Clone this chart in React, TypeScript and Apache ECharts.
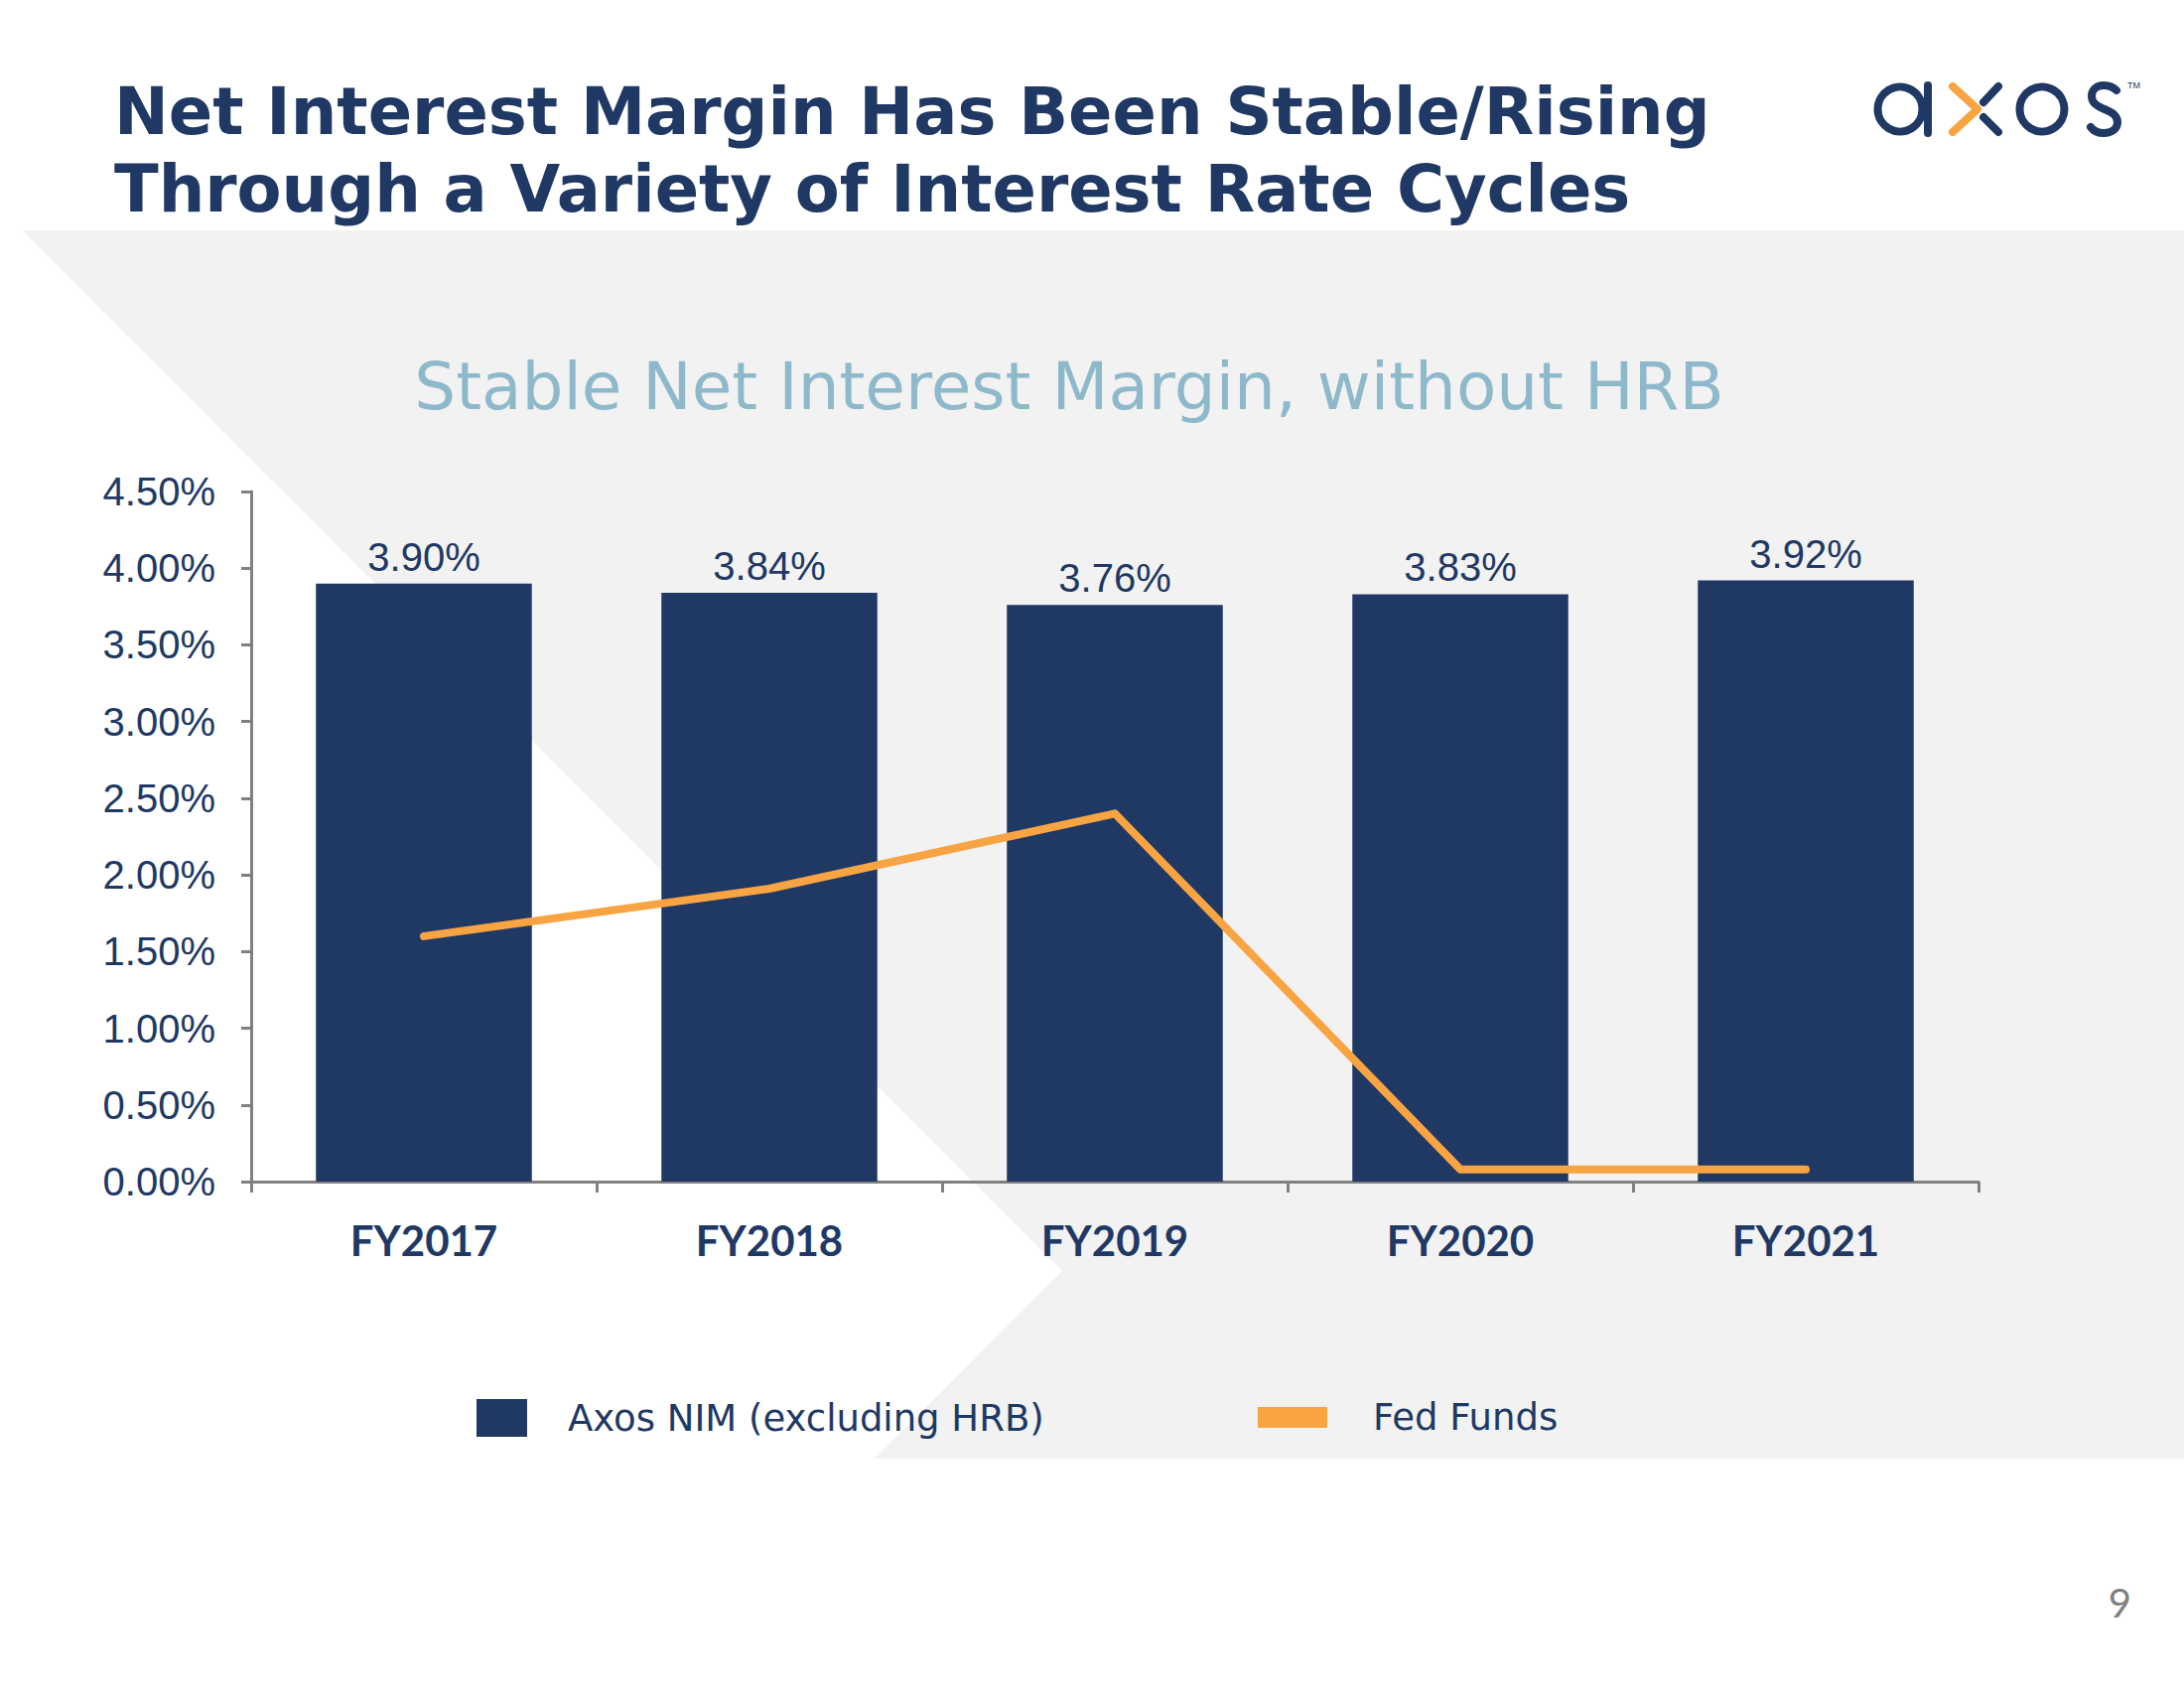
import React, { useEffect, useRef } from "react";
import * as echarts from "echarts";

const categories = ["FY2017", "FY2018", "FY2019", "FY2020", "FY2021"];
const nimValues = [3.9, 3.84, 3.76, 3.83, 3.92];
const fedFundsValues = [1.6, 1.91, 2.4, 0.08, 0.08];
const yMin = 0;
const yMax = 4.5;
const yInterval = 0.5;

const titleLines = [
  "Net Interest Margin Has Been Stable/Rising",
  "Through a Variety of Interest Rate Cycles",
];
const subtitle = "Stable Net Interest Margin, without HRB";
const seriesNames = ["Axos NIM (excluding HRB)", "Fed Funds"];
const pageNumber = "9";

const NAVY = "#203864";
const ORANGE = "#F8A443";
const GREY_AXIS = "#808080";
const BG_GREY = "#F2F2F2";

const S_PATH =
  "M 26 5 C 22 1 17 0 13 0 C 6 0 1 4 1 11 C 1 18 7 21 14 24 C 21 27 27 30 27 37 C 27 44 21 48 13 48 C 8 48 3 46 0 42";

let registered = false;
function ensureShape() {
  if (registered) return;
  echarts.graphic.registerShape("logoS", echarts.graphic.extendPath(S_PATH, {}) as any);
  registered = true;
}

export default function App() {
  const ref = useRef<HTMLDivElement>(null);

  useEffect(() => {
    if (!ref.current) return;
    ensureShape();
    const chart = echarts.init(ref.current, undefined, { renderer: "svg" });

    const logoStroke = { fill: "none", stroke: NAVY, lineWidth: 8, lineCap: "round", lineJoin: "round" };

    chart.setOption({
      animation: false,
      backgroundColor: "#ffffff",
      graphic: [
        {
          type: "rect",
          z: -10,
          silent: true,
          shape: { x: 0, y: 232, width: 2200, height: 1237 },
          style: { fill: BG_GREY },
        },
        {
          type: "polygon",
          z: -9,
          silent: true,
          shape: {
            points: [
              [0, 232],
              [22, 232],
              [1070, 1280],
              [881, 1469],
              [0, 1469],
            ],
          },
          style: { fill: "#ffffff" },
        },
        {
          type: "text",
          x: 115,
          y: 112,
          style: {
            text: titleLines[0],
            font: "bold 65.5px 'DejaVu Sans'",
            fill: NAVY,
            textVerticalAlign: "middle",
          },
        },
        {
          type: "text",
          x: 115,
          y: 190,
          style: {
            text: titleLines[1],
            font: "bold 65.5px 'DejaVu Sans'",
            fill: NAVY,
            textVerticalAlign: "middle",
          },
        },
        {
          type: "text",
          x: 1077,
          y: 389,
          style: {
            text: subtitle,
            font: "66px 'DejaVu Sans'",
            fill: "#8DB9CA",
            textAlign: "center",
            textVerticalAlign: "middle",
          },
        },
        {
          type: "text",
          x: 2147,
          y: 1614,
          style: {
            text: pageNumber,
            font: "40px Lato",
            fill: "#808080",
            textAlign: "right",
            textVerticalAlign: "middle",
          },
        },
        // logo "axos"
        { type: "circle", shape: { cx: 1914, cy: 110, r: 22.5 }, style: logoStroke },
        { type: "line", shape: { x1: 1942, y1: 86, x2: 1942, y2: 134 }, style: logoStroke },
        {
          type: "polyline",
          shape: { points: [[1967, 87], [1992, 110], [1967, 133]] },
          style: { ...logoStroke, stroke: ORANGE },
        },
        { type: "line", shape: { x1: 2013, y1: 87, x2: 1998, y2: 103 }, style: logoStroke },
        { type: "line", shape: { x1: 1998, y1: 118, x2: 2013, y2: 133 }, style: logoStroke },
        { type: "circle", shape: { cx: 2057, cy: 110, r: 22.5 }, style: logoStroke },
        { type: "logoS", x: 2106, y: 86, style: logoStroke },
        {
          type: "text",
          x: 2143,
          y: 86,
          style: { text: "TM", font: "9px 'Liberation Sans'", fill: NAVY, textVerticalAlign: "middle" },
        },
      ],
      legend: [
        {
          left: 480,
          top: 1409,
          padding: 0,
          itemWidth: 51,
          itemHeight: 38,
          selectedMode: false,
          data: [{ name: seriesNames[0], icon: "rect" }],
          textStyle: {
            fontFamily: "DejaVu Sans",
            fontSize: 37,
            color: NAVY,
            padding: [0, 0, 0, 36],
          },
        },
        {
          left: 1267,
          top: 1409,
          padding: 0,
          itemWidth: 70,
          itemHeight: 21,
          selectedMode: false,
          data: [{ name: seriesNames[1], icon: "rect" }],
          textStyle: {
            fontFamily: "DejaVu Sans",
            fontSize: 37,
            color: NAVY,
            padding: [0, 0, 0, 41],
          },
        },
      ],
      grid: { left: 253, top: 495, width: 1740, height: 695, containLabel: false },
      xAxis: {
        type: "category",
        data: categories,
        axisLine: { show: true, lineStyle: { color: GREY_AXIS, width: 3 } },
        axisTick: { show: true, length: 11, lineStyle: { color: GREY_AXIS, width: 3 } },
        axisLabel: {
          margin: 38,
          fontFamily: "Lato",
          fontWeight: "bold",
          fontSize: 42,
          color: NAVY,
        },
        splitLine: { show: false },
      },
      yAxis: {
        type: "value",
        min: yMin,
        max: yMax,
        interval: yInterval,
        axisLine: { show: true, lineStyle: { color: GREY_AXIS, width: 3 } },
        axisTick: { show: true, length: 10, lineStyle: { color: GREY_AXIS, width: 3 } },
        axisLabel: {
          margin: 36,
          fontFamily: "Liberation Sans",
          fontSize: 40,
          color: NAVY,
          formatter: (v: number) => v.toFixed(2) + "%",
        },
        splitLine: { show: false },
      },
      series: [
        {
          name: seriesNames[0],
          type: "bar",
          data: nimValues,
          barWidth: "62.5%",
          itemStyle: { color: NAVY },
          label: {
            show: true,
            position: "top",
            distance: 7,
            fontFamily: "Liberation Sans",
            fontSize: 40,
            color: NAVY,
            formatter: (p: any) => Number(p.value).toFixed(2) + "%",
          },
          z: 2,
        },
        {
          name: seriesNames[1],
          type: "line",
          data: fedFundsValues,
          symbol: "none",
          color: ORANGE,
          itemStyle: { color: ORANGE },
          lineStyle: { color: ORANGE, width: 8, cap: "round", join: "round" },
          z: 3,
        },
      ],
    });

    return () => {
      chart.dispose();
    };
  }, []);

  return (
    <div
      ref={ref}
      style={{ position: "absolute", left: 0, top: 0, width: 2200, height: 1700 }}
    />
  );
}
